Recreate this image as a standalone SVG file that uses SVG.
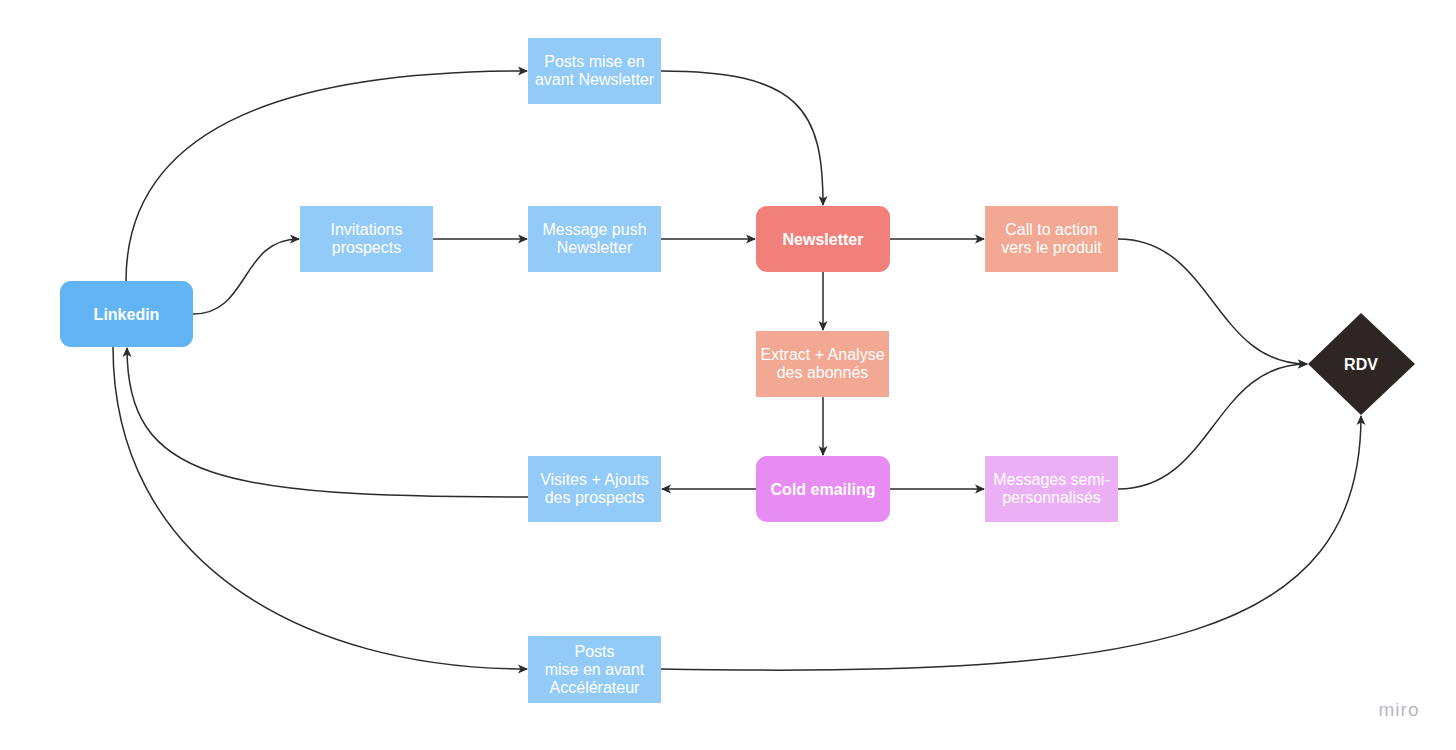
<svg xmlns="http://www.w3.org/2000/svg" width="1456" height="750" viewBox="0 0 1456 750">
<style>
.t{font-family:"Liberation Sans",Arial,sans-serif;font-size:16px;fill:#ffffff;text-anchor:middle}
.b{font-weight:bold}
.c{fill:none;stroke:#2b2b2b;stroke-width:1.5}
.blue{fill:#93cbf8}
</style>
<defs>
<marker id="a" viewBox="0 0 10 10" refX="9" refY="5" markerWidth="10" markerHeight="10" markerUnits="userSpaceOnUse" orient="auto">
<path d="M0,0.5 L10,5 L0,9.5 L2.5,5 Z" fill="#2b2b2b"/>
</marker>
</defs>
<rect width="1456" height="750" fill="#ffffff"/>
<g id="connectors">
<path class="c" marker-end="url(#a)" d="M126,281 C126,120 300,71 527,71"/>
<path class="c" marker-end="url(#a)" d="M661,71 C800,71 823,110 823,205"/>
<path class="c" marker-end="url(#a)" d="M193,314 C250,314 240,239 299,239"/>
<path class="c" marker-end="url(#a)" d="M433,239 L527,239"/>
<path class="c" marker-end="url(#a)" d="M661,239 L755,239"/>
<path class="c" marker-end="url(#a)" d="M890,239 L984,239"/>
<path class="c" marker-end="url(#a)" d="M1118,239 C1213,239 1213,364 1307,364"/>
<path class="c" marker-end="url(#a)" d="M823,272 L823,330"/>
<path class="c" marker-end="url(#a)" d="M823,397 L823,455"/>
<path class="c" marker-end="url(#a)" d="M756,489 L662,489"/>
<path class="c" marker-end="url(#a)" d="M890,489 L984,489"/>
<path class="c" marker-end="url(#a)" d="M1118,489 C1213,489 1213,364 1307,364"/>
<path class="c" marker-end="url(#a)" d="M528,497 C220,497 127,480 127,348"/>
<path class="c" marker-end="url(#a)" d="M113,347 C113,560 300,669 527,669"/>
<path class="c" marker-end="url(#a)" d="M661,669 C1150,678 1361,640 1361,416"/>
</g>
<g id="linkedin">
<rect x="60" y="281" width="133" height="66" rx="11" fill="#63b4f4"/>
<text class="t b" x="126.5" y="319.5">Linkedin</text>
</g>
<g id="posts-newsletter">
<rect class="blue" x="528" y="38" width="133" height="66"/>
<text class="t" x="594.5" y="67">Posts mise en</text>
<text class="t" x="594.5" y="85">avant Newsletter</text>
</g>
<g id="invitations">
<rect class="blue" x="300" y="206" width="133" height="66"/>
<text class="t" x="366.5" y="235">Invitations</text>
<text class="t" x="366.5" y="253">prospects</text>
</g>
<g id="message-push">
<rect class="blue" x="528" y="206" width="133" height="66"/>
<text class="t" x="594.5" y="235">Message push</text>
<text class="t" x="594.5" y="253">Newsletter</text>
</g>
<g id="newsletter">
<rect x="756" y="206" width="134" height="66" rx="11" fill="#f2807a"/>
<text class="t b" x="823" y="244.5">Newsletter</text>
</g>
<g id="call-to-action">
<rect x="985" y="206" width="133" height="66" fill="#f2a893"/>
<text class="t" x="1051.5" y="235">Call to action</text>
<text class="t" x="1051.5" y="253">vers le produit</text>
</g>
<g id="extract">
<rect x="756" y="331" width="133" height="66" fill="#f2a893"/>
<text class="t" x="822.5" y="360">Extract + Analyse</text>
<text class="t" x="822.5" y="378">des abonnés</text>
</g>
<g id="cold-emailing">
<rect x="756" y="456" width="134" height="66" rx="11" fill="#e68cf3"/>
<text class="t b" x="823" y="494.5">Cold emailing</text>
</g>
<g id="visites">
<rect class="blue" x="528" y="456" width="133" height="66"/>
<text class="t" x="594.5" y="485">Visites + Ajouts</text>
<text class="t" x="594.5" y="503">des prospects</text>
</g>
<g id="messages-semi">
<rect x="985" y="456" width="133" height="66" fill="#ebaff5"/>
<text class="t" x="1051.5" y="485">Messages semi-</text>
<text class="t" x="1051.5" y="503">personnalisés</text>
</g>
<g id="posts-accelerateur">
<rect class="blue" x="528" y="636" width="133" height="67"/>
<text class="t" x="594.5" y="657">Posts</text>
<text class="t" x="594.5" y="675">mise en avant</text>
<text class="t" x="594.5" y="693">Accélérateur</text>
</g>
<g id="rdv">
<polygon points="1361,313 1415,364 1361,415 1308,364" fill="#2e2625"/>
<text class="t b" x="1361" y="369.5">RDV</text>
</g>
<text x="1399" y="716" font-family="'Liberation Sans',Arial,sans-serif" font-size="19" fill="#b8b8c8" text-anchor="middle" letter-spacing="1">miro</text>
</svg>
